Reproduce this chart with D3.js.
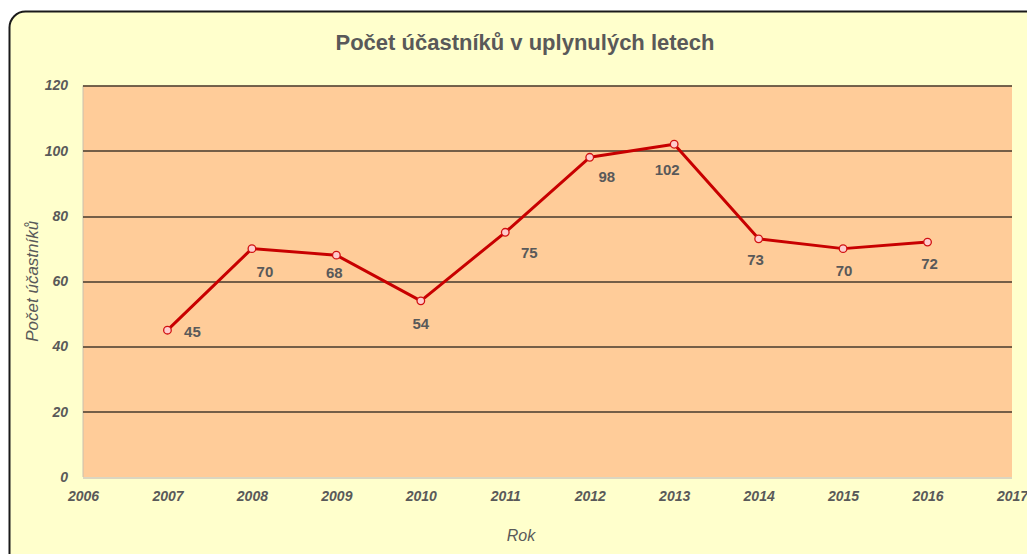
<!DOCTYPE html>
<html>
<head>
<meta charset="utf-8">
<script src="https://cdn.jsdelivr.net/npm/d3@7"></script>
<style>
  body { margin: 0; background: #fff; }
  svg { display: block; }
</style>
</head>
<body>
<div id="chart"></div>
<script>
// data
const years = [2007, 2008, 2009, 2010, 2011, 2012, 2013, 2014, 2015, 2016];
const participants = [45, 70, 68, 54, 75, 98, 102, 73, 70, 72];
const yTicks = [0, 20, 40, 60, 80, 100, 120];
const xTicks = [2006, 2007, 2008, 2009, 2010, 2011, 2012, 2013, 2014, 2015, 2016, 2017];

// label nudges (layout only)
const labelDx = [25, 13, -2, 0, 24, 17, -7, -3, 1, 2];
const labelDy = [7, 28, 23, 28, 26, 25, 31, 26, 27, 27];

const W = 1027, H = 554;
const margin = {top: 85.5, right: 15, bottom: 77, left: 83};
const width = W - margin.left - margin.right,
    height = H - margin.top - margin.bottom;

const svg = d3.select('#chart').append('svg')
  .attr('width', W)
  .attr('height', H);

// chart frame (runs off the right and bottom edge)
svg.append('rect')
  .attr('x', 9.5).attr('y', 11.5)
  .attr('width', W + 40).attr('height', H + 40)
  .attr('rx', 16).attr('ry', 16)
  .attr('fill', '#FFFFCC')
  .attr('stroke', '#1a1a1a')
  .attr('stroke-width', 2);

const g = svg.append('g')
  .attr('transform', `translate(${margin.left}, ${margin.top})`);

const x = d3.scaleLinear().domain([2006, 2017]).range([0, width]);
const y = d3.scaleLinear().domain([0, 120]).range([height, 0]);

g.append('rect')
  .attr('width', width).attr('height', height)
  .attr('fill', '#FFCC99');

// left edge
g.append('line').attr('x1', 0).attr('x2', 0).attr('y1', 0).attr('y2', height)
  .attr('stroke', '#c8c0b0').attr('stroke-width', 1);

// gridlines
g.append('g')
  .selectAll('line')
  .data(yTicks)
  .enter()
  .append('line')
  .attr('x1', 0).attr('x2', width)
  .attr('y1', d => Math.round(y(d)) + 0.5).attr('y2', d => Math.round(y(d)) + 0.5)
  .attr('stroke', d => d === 0 ? '#cfc8bc' : '#463a2c')
  .attr('stroke-width', d => d === 0 ? 1.5 : 1.3);

const font = 'Liberation Sans, Arial, sans-serif';

// y axis labels
const yAxis = g.append('g')
  .call(d3.axisLeft(y).tickValues(yTicks).tickSize(0).tickPadding(15));
yAxis.select('.domain').remove();
yAxis.selectAll('text')
  .attr('fill', '#595959')
  .style('font', `italic bold 14px ${font}`);

// x axis labels
const xAxis = g.append('g')
  .attr('transform', `translate(0, ${height})`)
  .call(d3.axisBottom(x).tickValues(xTicks).tickFormat(d3.format('d')).tickSize(0).tickPadding(14));
xAxis.select('.domain').remove();
xAxis.selectAll('text')
  .attr('fill', '#595959')
  .style('font', `italic bold 14px ${font}`);

// line
const line = d3.line()
  .x((d, i) => x(years[i]))
  .y(d => y(d));

g.append('path')
  .datum(participants)
  .attr('d', line)
  .attr('fill', 'none')
  .attr('stroke', '#C80000')
  .attr('stroke-width', 3)
  .attr('stroke-linejoin', 'round');

// markers
g.append('g')
  .selectAll('circle')
  .data(participants)
  .enter()
  .append('circle')
  .attr('cx', (d, i) => x(years[i]))
  .attr('cy', d => y(d))
  .attr('r', 3.8)
  .attr('fill', '#FFCCCC')
  .attr('stroke', '#D01010')
  .attr('stroke-width', 1.3);

// data labels
g.append('g')
  .selectAll('text')
  .data(participants)
  .enter()
  .append('text')
  .attr('x', (d, i) => x(years[i]) + labelDx[i])
  .attr('y', (d, i) => y(d) + labelDy[i])
  .attr('text-anchor', 'middle')
  .attr('fill', '#595959')
  .style('font', `bold 15px ${font}`)
  .text(d => d);

// titles
svg.append('text')
  .attr('x', 525).attr('y', 50)
  .attr('text-anchor', 'middle')
  .attr('fill', '#595959')
  .style('font', `bold 22px ${font}`)
  .text('Počet účastníků v uplynulých letech');

svg.append('text')
  .attr('x', 521).attr('y', 541)
  .attr('text-anchor', 'middle')
  .attr('fill', '#595959')
  .style('font', `italic 16px ${font}`)
  .text('Rok');

svg.append('text')
  .attr('transform', `translate(38, ${margin.top + height / 2}) rotate(-90)`)
  .attr('text-anchor', 'middle')
  .attr('fill', '#595959')
  .style('font', `italic 17px ${font}`)
  .text('Počet účastníků');
</script>
</body>
</html>
